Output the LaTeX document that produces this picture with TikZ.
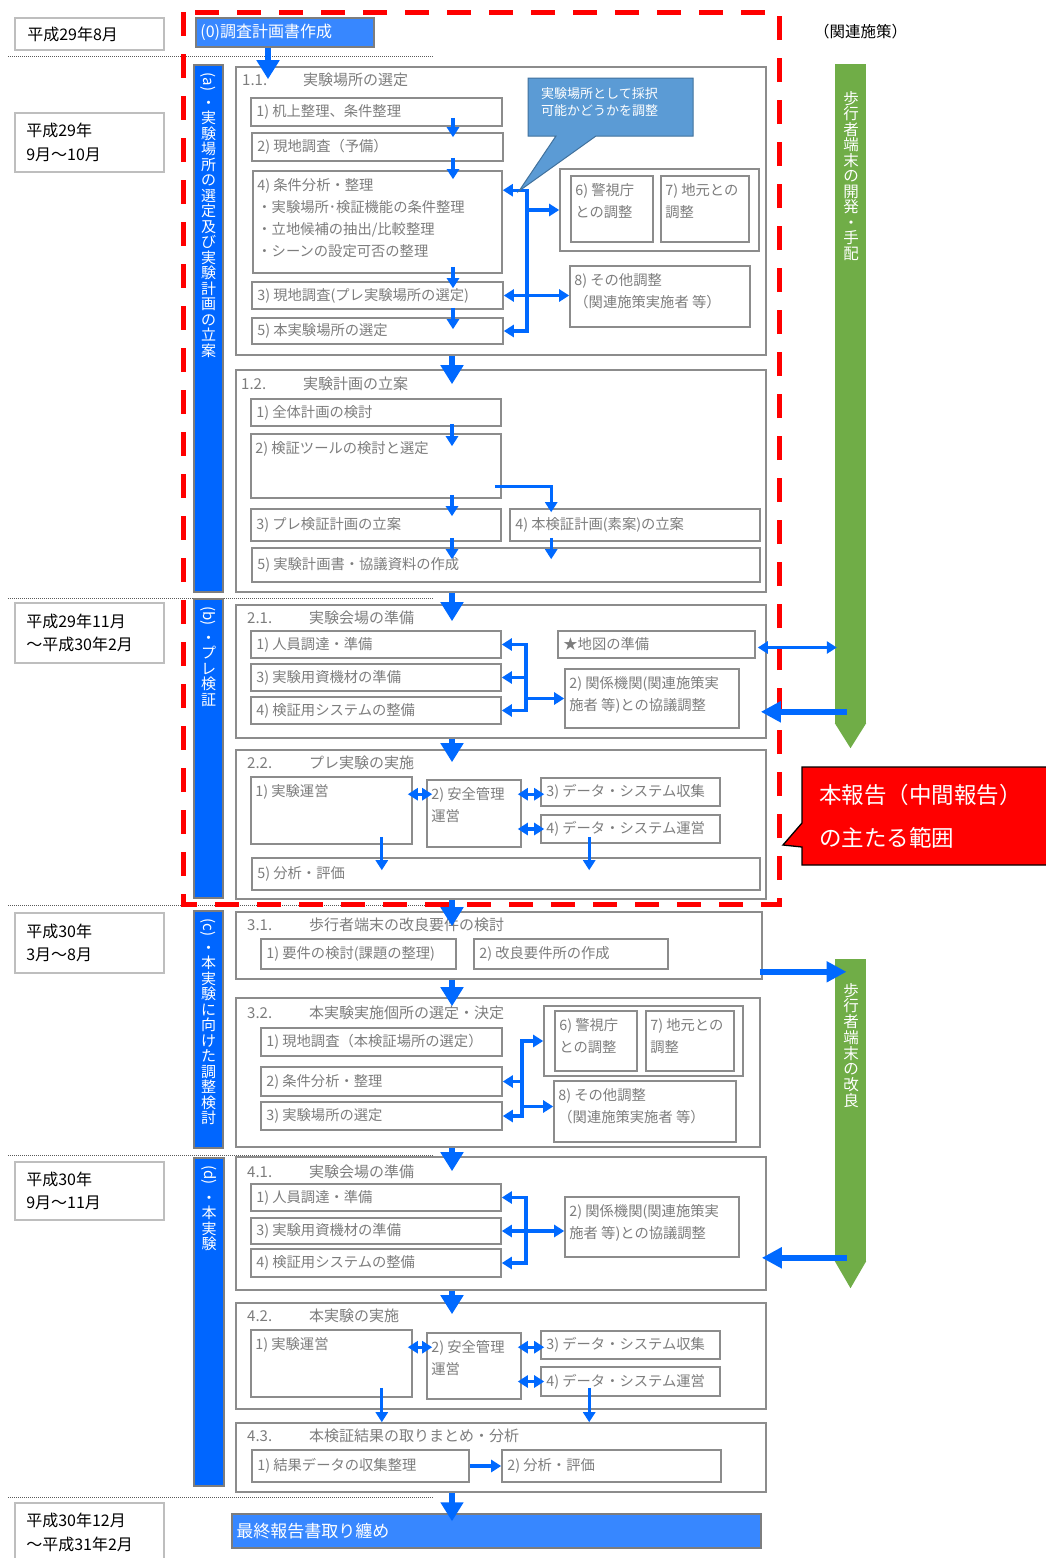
\documentclass[tikz,border=0pt]{standalone}
\usepackage{fontspec}
\setmainfont{Noto Sans CJK JP}
\usetikzlibrary{arrows.meta,calc,fit}

\definecolor{boxgray}{RGB}{140,140,140}
\definecolor{dategray}{RGB}{190,190,190}
\definecolor{bargray}{RGB}{125,125,125}
\definecolor{txtgray}{RGB}{125,125,125}
\definecolor{sepgray}{RGB}{90,90,90}
\definecolor{barblue}{RGB}{0,102,255}
\definecolor{lightblue}{RGB}{55,135,255}
\definecolor{arrblue}{RGB}{0,105,255}
\definecolor{barkgreen}{RGB}{112,173,71}
\definecolor{calloutblue}{RGB}{91,155,213}
\definecolor{calloutborder}{RGB}{65,113,156}

\tikzset{
  gbox/.style={draw=boxgray, line width=1.6pt, inner sep=0pt},
  dbox/.style={draw=dategray, line width=1.8pt, inner sep=0pt},
  barbox/.style={draw=bargray, fill=barblue, line width=1.3pt, inner sep=0pt},
  lbbox/.style={draw=bargray, fill=lightblue, line width=1.5pt, inner sep=0pt},
  grbar/.style={fill=barkgreen, inner sep=0pt},
  btxt/.style={text=txtgray, font=\fontsize{14.3}{22}\selectfont, inner sep=0pt, align=left},
  ttxt/.style={text=txtgray, font=\fontsize{15}{18}\selectfont, inner sep=0pt},
  dtxt/.style={text=black, font=\fontsize{16}{23.5}\selectfont, inner sep=0pt, align=left},
  vtxt/.style={text=white, font=\fontsize{15}{15.5}\selectfont, inner sep=0pt, align=center},
  wtxt/.style={text=white, inner sep=0pt, align=left},
  tarr/.style={draw=arrblue, line width=3.3pt},
  barr/.style={draw=arrblue, line width=6.5pt, -{Triangle[length=19pt,width=22pt]}},
  sarr/.style={draw=arrblue, line width=6.5pt, -{Triangle[length=20pt,width=20pt]}},
  perioddiv/.style={draw=sepgray, line width=0.8pt, dash pattern=on 1pt off 1pt},
  reddash/.style={draw=red, line width=5pt, dash pattern=on 24pt off 18pt},
}

% box from corner to corner, named
\newcommand\gbx[6][gbox]{\node[#1, fit={(#3,#4) (#5,#6)}] (#2) {};}
% one-line text centred vertically at the left of a box
\newcommand\boxtxt[2]{\node[btxt, anchor=west] (#1t) at ([xshift=6pt]#1.west) {#2};}
% text set from the top-left corner of a box
\newcommand\boxtop[2]{\node[btxt, anchor=north west] (#1t) at ([xshift=5pt,yshift=-8pt]#1.north west) {#2};}

\begin{document}
\begin{tikzpicture}[x=1pt,y=-1pt,>={Triangle[length=10pt,width=12pt]}]
\path[use as bounding box, fill=white] (0,0) rectangle (1045,1558);

% columns used by the connectors
\coordinate (c0) at (268,0);
\coordinate (cmid) at (452,0);
\coordinate (cin) at (453,0);
\coordinate (j11) at (527,0);
\coordinate (j21) at (526,0);
\coordinate (j32) at (522,0);
\coordinate (j41) at (526,0);

% period separators
\foreach \yy in {56,598,905,1155,1497} \draw[perioddiv] (8,\yy) -- (433,\yy);

% scope of the interim report
\draw[reddash] (183,12) rectangle (779,904);

% ---------- periods ----------
\gbx[dbox]{d1}{15}{18}{164}{50}
\node[dtxt, anchor=west] (d1t) at ([xshift=13pt]d1.west) {平成29年8月};
\gbx[dbox]{d2}{15}{113}{164}{172}
\node[dtxt, anchor=west] (d2t) at ([xshift=12pt]d2.west) {平成29年\\9月～10月};
\gbx[dbox]{d3}{15}{603}{164}{663}
\node[dtxt, anchor=west] (d3t) at ([xshift=12pt]d3.west) {平成29年11月\\～平成30年2月};
\gbx[dbox]{d4}{15}{913}{164}{973}
\node[dtxt, anchor=west] (d4t) at ([xshift=12pt]d4.west) {平成30年\\3月～8月};
\gbx[dbox]{d5}{15}{1162}{164}{1220}
\node[dtxt, anchor=west] (d5t) at ([xshift=12pt]d5.west) {平成30年\\9月～11月};
\gbx[dbox]{d6}{15}{1503}{164}{1562}
\node[dtxt, anchor=west] (d6t) at ([xshift=12pt]d6.west) {平成30年12月\\～平成31年2月};

% ---------- phase bars ----------
\gbx[barbox]{ba}{194}{65}{223}{592}
\node[vtxt, rotate=-90] (bal) at (208.5,82) {(a)};
\node[vtxt, anchor=north] (bat) at (208.5,96.8) {\rule{0pt}{11pt}・\\実\\験\\場\\所\\の\\選\\定\\及\\び\\実\\験\\計\\画\\の\\立\\案};
\gbx[barbox]{bb}{194}{599}{223}{898}
\node[vtxt, rotate=-90] (bbl) at (208.5,616) {(b)};
\node[vtxt, anchor=north] (bbt) at (208.5,631.8) {\rule{0pt}{11pt}・\\プ\\レ\\検\\証};
\gbx[barbox]{bc}{194}{911}{223}{1148}
\node[vtxt, rotate=-90] (bcl) at (208.5,927.5) {(c)};
\node[vtxt, anchor=north] (bct) at (208.5,941.8) {\rule{0pt}{11pt}・\\本\\実\\験\\に\\向\\け\\た\\調\\整\\検\\討};
\gbx[barbox]{bd}{194}{1158}{224}{1486}
\node[vtxt, rotate=-90] (bdl) at (209,1175) {(d)};
\node[vtxt, anchor=north] (bdt) at (209,1191.8) {\rule{0pt}{11pt}・\\本\\実\\験};

% ---------- (0) ----------
\gbx[lbbox]{zero}{196}{18}{374}{47}
\node[wtxt, font=\fontsize{16}{20}\selectfont, anchor=west] (zerot) at ([xshift=5pt]zero.west) {(0)調査計画書作成};

% ---------- 1.1 ----------
\gbx{a11}{236}{67}{766}{355}
\node[ttxt, anchor=west] (a11t) at (242,80) {\makebox[61pt][l]{1.1.}実験場所の選定};
\gbx{b1}{251}{98}{502}{126}   \boxtxt{b1}{1) 机上整理、条件整理}
\gbx{b2}{252}{133}{503}{161}  \boxtxt{b2}{2) 現地調査（予備）}
\gbx{b4}{253}{171}{502}{273}
\boxtop{b4}{4) 条件分析・整理\\・実験場所･検証機能の条件整理\\・立地候補の抽出/比較整理\\・シーンの設定可否の整理}
\gbx{b3}{252}{282}{503}{309}  \boxtxt{b3}{3) 現地調査(プレ実験場所の選定)}
\gbx{b5}{252}{318}{503}{344}  \boxtxt{b5}{5) 本実験場所の選定}
\gbx{g67}{560}{169}{759}{251}
\gbx{b6}{571}{176}{653}{242}  \boxtop{b6}{6) 警視庁\\との調整}
\gbx{b7}{661}{176}{749}{242}  \boxtop{b7}{7) 地元との\\調整}
\gbx{b8}{570}{266}{750}{327}  \boxtop{b8}{8) その他調整\\（関連施策実施者 等）}

% ---------- 1.2 ----------
\gbx{a12}{236}{370}{766}{592}
\node[ttxt, anchor=west] (a12t) at (241,384) {\makebox[62pt][l]{1.2.}実験計画の立案};
\gbx{c1}{251}{399}{501}{426}  \boxtxt{c1}{1) 全体計画の検討}
\gbx{c2}{251}{434}{501}{498}  \boxtop{c2}{2) 検証ツールの検討と選定}
\gbx{c3}{251}{509}{501}{541}  \boxtxt{c3}{3) プレ検証計画の立案}
\gbx{c4}{510}{509}{760}{541}  \boxtxt{c4}{4) 本検証計画(素案)の立案}
\gbx{c5}{252}{548}{760}{582}  \boxtxt{c5}{5) 実験計画書・協議資料の作成}

% ---------- 2.1 ----------
\gbx{a21}{236}{605}{766}{738}
\node[ttxt, anchor=west] (a21t) at (247,618) {\makebox[62pt][l]{2.1.}実験会場の準備};
\gbx{p1}{251}{631}{501}{658}  \boxtxt{p1}{1) 人員調達・準備}
\gbx{p3}{251}{664}{501}{691}  \boxtxt{p3}{3) 実験用資機材の準備}
\gbx{p4}{251}{697}{501}{724}  \boxtxt{p4}{4) 検証用システムの整備}
\gbx{pstar}{558}{631}{755}{658} \boxtxt{pstar}{★地図の準備}
\gbx{p2}{565}{669}{739}{728}  \boxtop{p2}{2) 関係機関(関連施策実\\施者 等)との協議調整}

% ---------- 2.2 ----------
\gbx{a22}{236}{750}{766}{899}
\node[ttxt, anchor=west] (a22t) at (247,763) {\makebox[62pt][l]{2.2.}プレ実験の実施};
\gbx{e1}{251}{777}{412}{844}  \boxtop{e1}{1) 実験運営}
\gbx{e2}{427}{780}{521}{847}  \boxtop{e2}{2) 安全管理\\運営}
\gbx{e3}{541}{778}{720}{806}  \boxtxt{e3}{3) データ・システム収集}
\gbx{e4}{541}{815}{720}{843}  \boxtxt{e4}{4) データ・システム運営}
\gbx{e5}{252}{858}{760}{890}  \boxtxt{e5}{5) 分析・評価}

% ---------- 3.1 ----------
\gbx{a31}{236}{912}{762}{979}
\node[ttxt, anchor=west] (a31t) at (247,925) {\makebox[62pt][l]{3.1.}歩行者端末の改良要件の検討};
\gbx{q1}{261}{939}{456}{969}  \boxtxt{q1}{1) 要件の検討(課題の整理)}
\gbx{q2}{474}{939}{668}{969}  \boxtxt{q2}{2) 改良要件所の作成}

% ---------- 3.2 ----------
\gbx{a32}{236}{998}{760}{1147}
\node[ttxt, anchor=west] (a32t) at (247,1013) {\makebox[62pt][l]{3.2.}本実験実施個所の選定・決定};
\gbx{r1}{261}{1028}{502}{1056} \boxtxt{r1}{1) 現地調査（本検証場所の選定）}
\gbx{r2}{261}{1067}{502}{1096} \boxtxt{r2}{2) 条件分析・整理}
\gbx{r3}{261}{1102}{502}{1130} \boxtxt{r3}{3) 実験場所の選定}
\gbx{rg}{544}{1006}{743}{1076}
\gbx{r6}{555}{1011}{637}{1071} \boxtop{r6}{6) 警視庁\\との調整}
\gbx{r7}{646}{1011}{734}{1071} \boxtop{r7}{7) 地元との\\調整}
\gbx{r8}{554}{1081}{736}{1142} \boxtop{r8}{8) その他調整\\（関連施策実施者 等）}

% ---------- 4.1 ----------
\gbx{a41}{236}{1157}{766}{1290}
\node[ttxt, anchor=west] (a41t) at (247,1172) {\makebox[62pt][l]{4.1.}実験会場の準備};
\gbx{s1}{251}{1184}{501}{1211} \boxtxt{s1}{1) 人員調達・準備}
\gbx{s3}{251}{1218}{501}{1244} \boxtxt{s3}{3) 実験用資機材の準備}
\gbx{s4}{251}{1249}{501}{1277} \boxtxt{s4}{4) 検証用システムの整備}
\gbx{s2}{565}{1197}{739}{1257} \boxtop{s2}{2) 関係機関(関連施策実\\施者 等)との協議調整}

% ---------- 4.2 ----------
\gbx{a42}{236}{1303}{766}{1409}
\node[ttxt, anchor=west] (a42t) at (247,1316) {\makebox[62pt][l]{4.2.}本実験の実施};
\gbx{f1}{251}{1330}{412}{1397} \boxtop{f1}{1) 実験運営}
\gbx{f2}{427}{1333}{521}{1399} \boxtop{f2}{2) 安全管理\\運営}
\gbx{f3}{541}{1331}{720}{1359} \boxtxt{f3}{3) データ・システム収集}
\gbx{f4}{541}{1367}{720}{1396} \boxtxt{f4}{4) データ・システム運営}

% ---------- 4.3 ----------
\gbx{a43}{236}{1423}{766}{1492}
\node[ttxt, anchor=west] (a43t) at (247,1436) {\makebox[62pt][l]{4.3.}本検証結果の取りまとめ・分析};
\gbx{h1}{252}{1450}{469}{1482} \boxtxt{h1}{1) 結果データの収集整理}
\gbx{h2}{502}{1450}{721}{1482} \boxtxt{h2}{2) 分析・評価}

% ---------- final report ----------
\gbx[lbbox]{fin}{232}{1514}{761}{1548}
\node[wtxt, font=\fontsize{17}{20}\selectfont, anchor=west] (fint) at ([xshift=5pt]fin.west) {最終報告書取り纏め};

% ---------- related measures ----------
\node[text=black, font=\fontsize{15.5}{18}\selectfont, inner sep=0pt, anchor=west] (rel) at (814,32) {（関連施策）};
\node[grbar, fit={(835,64) (866,723)}] (gb1) {};
\fill[barkgreen] (gb1.south west) -- (gb1.south east) -- ($(gb1.south)+(0,25)$) -- cycle;
\node[vtxt, font=\fontsize{15.5}{15.5}\selectfont, anchor=north] (gb1t) at (851,91) {歩\\行\\者\\端\\末\\の\\開\\発\\・\\手\\配};
\node[grbar, fit={(835,959) (866,1261)}] (gb2) {};
\fill[barkgreen] (gb2.south west) -- (gb2.south east) -- ($(gb2.south)+(0,27)$) -- cycle;
\node[vtxt, font=\fontsize{15.5}{15.7}\selectfont, anchor=north] (gb2t) at (851,983) {歩\\行\\者\\端\\末\\の\\改\\良};

% ---------- thin connectors ----------
% 1.1
\draw[tarr,->] ($(b1.south -| cin)+(0,-9)$) -- ($(b2.north -| cin)+(0,5)$);
\draw[tarr,->] ($(b2.south -| cin)+(0,-4)$) -- ($(b4.north -| cin)+(0,9)$);
\draw[tarr,->] ($(b4.south -| cin)+(0,-7)$) -- ($(b3.north -| cin)+(0,7)$);
\draw[tarr,->] ($(b3.south -| cin)+(0,-2)$) -- ($(b5.north -| cin)+(0,12)$);
\draw[tarr,<->] ($(b4.north east)+(0,20)$) -- ($(b4.north east -| j11)+(0,20)$) -- (b5.east -| j11) -- (b5.east);
\draw[tarr,->] (b3.east -| j11) -- (b3.east);
\draw[tarr,->] (b3.east -| j11) -- (b8.west |- b3.east);
\draw[tarr,->] (g67.west -| j11) -- (g67.west);
% 1.2
\draw[tarr,->] ($(c1.south -| cmid)+(0,-3)$) -- ($(c2.north -| cmid)+(0,13)$);
\draw[tarr,->] ($(c2.south -| cmid)+(0,-4)$) -- ($(c3.north -| cmid)+(0,8)$);
\draw[tarr,->] ($(c3.south -| cmid)+(0,-4)$) -- ($(c5.north -| cmid)+(0,12)$);
\draw[tarr,->] ($(c2.south east)+(-7,-12)$) -| ($(c4.north west)+(42,4)$);
\draw[tarr,->] ($(c4.south west)+(42,-4)$) -- ($(c5.north -| c4.south west)+(42,12)$);
% 2.1
\draw[tarr,<->] (p1.east) -- (p1.east -| j21) -- (p4.east -| j21) -- (p4.east);
\draw[tarr,->] (p3.east -| j21) -- (p3.east);
\draw[tarr,->] (p2.west -| j21) -- (p2.west);
% 2.2
\draw[tarr,<->] ($(e1.north east)+(-5,18)$) -- ($(e2.north west)+(6,15)$);
\draw[tarr,<->] ($(e2.north east)+(-4,15)$) -- ($(e3.north west)+(4,17)$);
\draw[tarr,<->] ($(e2.east |- e4.west)+(-4,0)$) -- ($(e4.west)+(4,0)$);
\draw[tarr,->] ($(e1.south east)+(-31,-8)$) -- ($(e1.south east |- e5.north)+(-31,13)$);
\draw[tarr,->] ($(e4.south west)+(49,-7)$) -- ($(e4.south west |- e5.north)+(49,13)$);
% 3.2
\draw[tarr,<->] (rg.west) -- (rg.west -| j32) -- (r3.east -| j32) -- (r3.east);
\draw[tarr,->] (r2.east -| j32) -- (r2.east);
\draw[tarr,->] ($(r8.west -| j32)+(0,-5)$) -- ($(r8.west)+(0,-5)$);
% 4.1
\draw[tarr,<->] (s1.east) -- (s1.east -| j41) -- (s4.east -| j41) -- (s4.east);
\draw[tarr,<->] (s3.east) -- (s2.west |- s3.east);
% 4.2
\draw[tarr,<->] ($(f1.north east)+(-5,18)$) -- ($(f2.north west)+(6,15)$);
\draw[tarr,<->] ($(f2.north east)+(-4,15)$) -- ($(f3.north west)+(4,17)$);
\draw[tarr,<->] ($(f2.east |- f4.west)+(-4,0)$) -- ($(f4.west)+(4,0)$);
\draw[tarr,->] ($(f1.south east)+(-31,-10)$) -- ($(f1.south east |- a43.north)+(-31,0)$);
\draw[tarr,->] ($(f4.south west)+(49,-9)$) -- ($(f4.south west |- a43.north)+(49,0)$);
% 4.3
\draw[tarr,->,line width=4.5pt] (h1.east) -- (h2.west);

% ---------- links to related measures ----------
\draw[tarr,<->,line width=2.8pt] ($(pstar.east)+(2,3)$) -- ($(pstar.east -| gb1.west)+(2,3)$);
\draw[sarr] ($(gb1.center |- p2.south)+(-4,-17)$) -- ($(a21.east |- p2.south)+(-6,-17)$);
\draw[sarr] ($(a31.south east)+(-3,-8)$) -- ($(gb2.center |- a31.south)+(-4,-8)$);
\draw[sarr] ($(gb2.center |- s2.south)+(-4,0)$) -- ($(a41.east |- s2.south)+(-5,0)$);

% ---------- main flow ----------
\draw[barr] (zero.south -| c0) -- ($(a11.north -| c0)+(0,13)$);
\draw[barr] (a11.south -| cmid) -- ($(a12.north -| cmid)+(0,15)$);
\draw[barr] (a12.south -| cmid) -- ($(a21.north -| cmid)+(0,17)$);
\draw[barr] (a21.south -| cmid) -- ($(a22.north -| cmid)+(0,13)$);
\draw[barr] (a22.south -| cmid) -- ($(a31.north -| cmid)+(0,15)$);
\draw[barr] (a31.south -| cmid) -- ($(a32.north -| cmid)+(0,9)$);
\draw[barr] (a32.south -| cmid) -- ($(a41.north -| cmid)+(0,15)$);
\draw[barr] (a41.south -| cmid) -- ($(a42.north -| cmid)+(0,12)$);
\draw[barr] (a43.south -| cmid) -- ($(fin.north -| cmid)+(0,8)$);

% ---------- callouts ----------
\draw[draw=calloutborder, fill=calloutblue, line width=1pt]
  (528,78) -- (693,78) -- (693,136) -- (596,136) -- (519,191) -- (556,136) -- (528,136) -- cycle;
\node[wtxt, font=\fontsize{13}{17}\selectfont, anchor=west] (callt) at (541,102.5) {実験場所として採択\\可能かどうかを調整};

\draw[draw=black, fill=red, line width=1.3pt]
  (802,767) -- (1050,767) -- (1050,865) -- (802,865) -- (802,847) -- (783,845) -- (802,823) -- cycle;
\node[wtxt, font=\fontsize{22.5}{43}\selectfont, anchor=west] (scopet) at (819,816.5) {本報告（中間報告）\\の主たる範囲};

\end{tikzpicture}
\end{document}
